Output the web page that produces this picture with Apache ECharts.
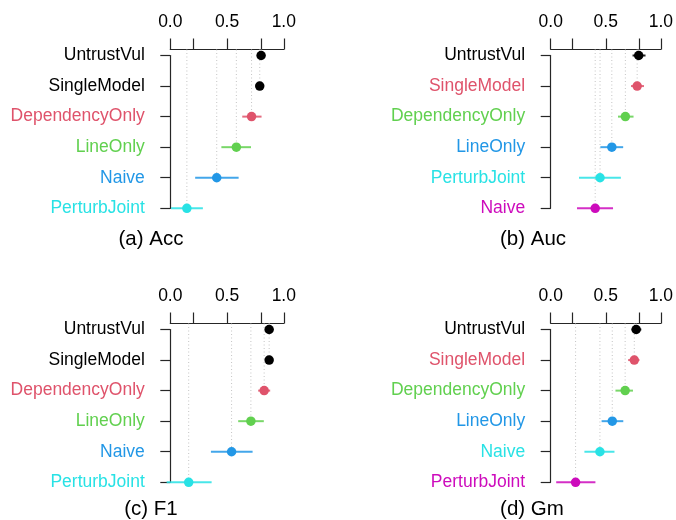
<!DOCTYPE html>
<html>
<head>
<meta charset="utf-8">
<script src="https://cdn.jsdelivr.net/npm/echarts@6/dist/echarts.min.js"></script>
<style>
  html, body { margin: 0; padding: 0; background: #fff; }
  #chart { width: 676px; height: 520px; }
</style>
</head>
<body>
<div id="chart"></div>
<script>
// R 4.x default palette, one colour per rank group
var palette = ['#000000', '#DF536B', '#61D04F', '#2297E6', '#28E2E5', '#CD0BBC'];

var xTicks = [0, 0.2, 0.5, 0.8, 1];
var xLabels = [0, 0.5, 1];

// (a) Acc
var accNames = ['UntrustVul', 'SingleModel', 'DependencyOnly', 'LineOnly', 'Naive', 'PerturbJoint'];
var accMean  = [0.800, 0.788, 0.716, 0.582, 0.409, 0.146];
var accLow   = [0.775, 0.765, 0.634, 0.450, 0.219, 0.006];
var accHigh  = [0.825, 0.815, 0.804, 0.711, 0.602, 0.287];
var accGroup = [0, 0, 1, 2, 3, 4];

// (b) Auc
var aucNames = ['UntrustVul', 'SingleModel', 'DependencyOnly', 'LineOnly', 'PerturbJoint', 'Naive'];
var aucMean  = [0.799, 0.785, 0.678, 0.555, 0.448, 0.404];
var aucLow   = [0.743, 0.729, 0.611, 0.451, 0.257, 0.239];
var aucHigh  = [0.861, 0.847, 0.752, 0.658, 0.637, 0.566];
var aucGroup = [0, 1, 2, 3, 4, 5];

// (c) F1
var f1Names = ['UntrustVul', 'SingleModel', 'DependencyOnly', 'LineOnly', 'Naive', 'PerturbJoint'];
var f1Mean  = [0.871, 0.871, 0.827, 0.710, 0.540, 0.162];
var f1Low   = [0.850, 0.850, 0.774, 0.598, 0.358, -0.032];
var f1High  = [0.892, 0.892, 0.880, 0.824, 0.725, 0.364];
var f1Group = [0, 0, 1, 2, 3, 4];

// (d) Gm
var gmNames = ['UntrustVul', 'SingleModel', 'DependencyOnly', 'LineOnly', 'Naive', 'PerturbJoint'];
var gmMean  = [0.776, 0.759, 0.676, 0.559, 0.447, 0.226];
var gmLow   = [0.735, 0.703, 0.588, 0.462, 0.306, 0.050];
var gmHigh  = [0.823, 0.806, 0.747, 0.659, 0.579, 0.406];
var gmGroup = [0, 1, 2, 3, 4, 5];

var panels = [
    {title: '(a) Acc', names: accNames, mean: accMean, low: accLow, high: accHigh, group: accGroup,
     left: 170.3, top: 55.5, titleX: 151, titleY: 239},
    {title: '(b) Auc', names: aucNames, mean: aucMean, low: aucLow, high: aucHigh, group: aucGroup,
     left: 550.7, top: 55.5, titleX: 533, titleY: 239},
    {title: '(c) F1', names: f1Names, mean: f1Mean, low: f1Low, high: f1High, group: f1Group,
     left: 170.3, top: 329.5, titleX: 151, titleY: 509.5},
    {title: '(d) Gm', names: gmNames, mean: gmMean, low: gmLow, high: gmHigh, group: gmGroup,
     left: 550.7, top: 329.5, titleX: 532, titleY: 509.5}
];

var FONT = '"Liberation Sans", Arial, Helvetica, sans-serif';
var AXIS_COLOR = '#262626';

var chart = echarts.init(document.getElementById('chart'));

var grids = [], xAxes = [], yAxes = [], series = [], graphics = [];

panels.forEach(function (p, k) {
    var rows = p.names.map(function (n, i) {
        return [p.mean[i], i, p.low[i], p.high[i], p.group[i]];
    });

    grids.push({left: p.left, top: p.top, width: 113.5, height: 152.8});

    xAxes.push({
        type: 'value', gridIndex: k, position: 'top', min: 0, max: 1, offset: 6,
        splitLine: {show: false},
        axisLine: {show: true, lineStyle: {color: AXIS_COLOR, width: 1.2}},
        axisTick: {show: true, length: 11, customValues: xTicks,
            lineStyle: {color: AXIS_COLOR, width: 1.2}},
        axisLabel: {customValues: xLabels, margin: 18, fontSize: 17.5, color: '#000',
            fontFamily: FONT,
            formatter: function (v) { return v.toFixed(1); }}
    });

    yAxes.push({
        type: 'category', gridIndex: k, inverse: true, boundaryGap: false, offset: 4.5,
        data: p.names,
        axisLine: {show: true, lineStyle: {color: AXIS_COLOR, width: 1.2}},
        axisTick: {show: true, length: 10, lineStyle: {color: AXIS_COLOR, width: 1.2}},
        axisLabel: {margin: 21, fontSize: 17.5, fontFamily: FONT,
            color: function (v, idx) { return palette[p.group[idx]]; }}
    });

    // dotted guide from the top axis down to each mean
    series.push({
        type: 'custom', xAxisIndex: k, yAxisIndex: k, silent: true, clip: false,
        data: rows,
        renderItem: function (params, api) {
            var pt = api.coord([api.value(0), api.value(1)]);
            var top = params.coordSys.y - 6;
            return {
                type: 'line',
                shape: {x1: pt[0], y1: top, x2: pt[0], y2: pt[1]},
                style: {stroke: '#c4c4c4', lineWidth: 1, lineDash: [1, 2.5]}
            };
        },
        z: 1
    });

    // confidence interval bars
    series.push({
        type: 'custom', xAxisIndex: k, yAxisIndex: k, silent: true, clip: false,
        data: rows,
        renderItem: function (params, api) {
            var a = api.coord([api.value(2), api.value(1)]);
            var b = api.coord([api.value(3), api.value(1)]);
            return {
                type: 'line',
                shape: {x1: a[0], y1: a[1], x2: b[0], y2: b[1]},
                style: {stroke: palette[api.value(4)], lineWidth: 2, opacity: 0.85}
            };
        },
        z: 2
    });

    // mean points
    series.push({
        type: 'scatter', xAxisIndex: k, yAxisIndex: k, clip: false,
        symbol: 'circle', symbolSize: 9.5,
        data: rows,
        itemStyle: {
            opacity: 1,
            color: function (d) { return palette[d.value[4]]; }
        },
        z: 3
    });

    graphics.push({
        type: 'text', x: p.titleX, y: p.titleY,
        style: {text: p.title, fontSize: 20.5, fontFamily: FONT, fill: '#000',
            align: 'center', verticalAlign: 'middle'}
    });
});

chart.setOption({
    animation: false,
    backgroundColor: '#fff',
    grid: grids,
    xAxis: xAxes,
    yAxis: yAxes,
    series: series,
    graphic: graphics
});
</script>
</body>
</html>
